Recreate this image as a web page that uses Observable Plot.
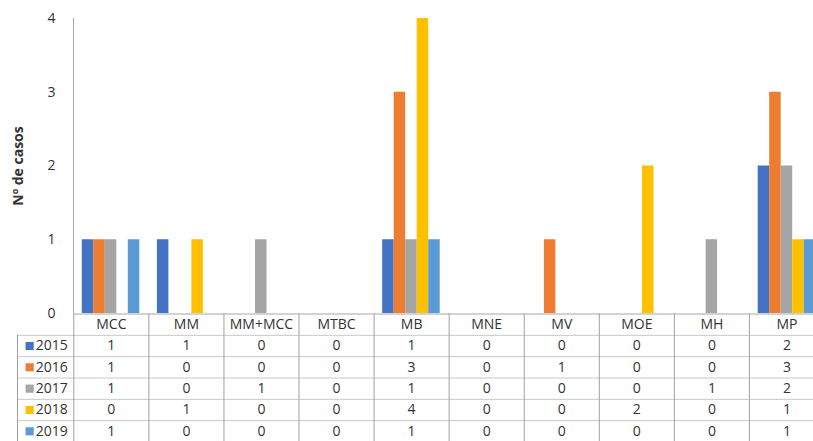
<!DOCTYPE html>
<html>
<head>
<meta charset="utf-8">
<script src="https://cdn.jsdelivr.net/npm/d3@7"></script>
<script src="https://cdn.jsdelivr.net/npm/@observablehq/plot@0.6"></script>
<style>
  html, body { margin: 0; padding: 0; background: #fff; overflow: hidden; }
  #wrap { width: 813px; }
  #wrap svg { display: block; }
  #wrap svg.chart { overflow: visible; }
  .chart [aria-label="y-axis label"] text { font-weight: bold; }
</style>
</head>
<body>
<div id="wrap"></div>
<script>
// ---- data ----
const categories = ["MCC", "MM", "MM+MCC", "MTBC", "MB", "MNE", "MV", "MOE", "MH", "MP"];
const years = ["2015", "2016", "2017", "2018", "2019"];
const v2015 = [1, 1, 0, 0, 1, 0, 0, 0, 0, 2];
const v2016 = [1, 0, 0, 0, 3, 0, 1, 0, 0, 3];
const v2017 = [1, 0, 1, 0, 1, 0, 0, 0, 1, 2];
const v2018 = [0, 1, 0, 0, 4, 0, 0, 2, 0, 1];
const v2019 = [1, 0, 0, 0, 1, 0, 0, 0, 0, 1];
const yTicks = [0, 1, 2, 3, 4];
const yLabel = "Nº de casos";
const colors = ["#4472C4", "#ED7D31", "#A5A5A5", "#FFC000", "#5B9BD5"];

const series = [v2015, v2016, v2017, v2018, v2019];
const rows = [];
years.forEach((yr, j) => categories.forEach((c, i) => rows.push({cat: c, ci: i, year: yr, yi: j, value: series[j][i]})));

// layout of a category slot (in category units)
const groupPad = 0.117;
const barW = (1 - 2 * groupPad) / years.length;

const font = "'Open Sans', sans-serif";

// ---- bar chart ----
const chart = Plot.plot({
  className: "chart",
  width: 813,
  height: 313,
  marginTop: 18,
  marginBottom: 0,
  marginLeft: 73,
  marginRight: -11,
  style: {fontFamily: font, fontSize: "14px", color: "#333", background: "#fff"},
  x: {domain: [0, categories.length], axis: null},
  y: {domain: [0, 4]},
  color: {domain: years, range: colors},
  marks: [
    Plot.rectY(rows.filter(d => d.value > 0), {
      x1: d => d.ci + groupPad + d.yi * barW,
      x2: d => d.ci + groupPad + (d.yi + 1) * barW,
      y: "value", fill: "year"
    }),
    Plot.ruleX([0], {stroke: "#a6a6a6"}),
    Plot.axisY({ticks: yTicks, tickFormat: "d", tickSize: 0, tickPadding: 18, fontSize: 14,
      label: yLabel, labelAnchor: "center", labelArrow: false, labelOffset: 60})
  ]
});

// ---- data table ----
const hLines = d3.range(0, years.length + 1);
const vLines = d3.range(0, categories.length);
const table = Plot.plot({
  width: 813,
  height: 129,
  marginTop: 0.5,
  marginBottom: 0.5,
  marginLeft: 17,
  marginRight: -11,
  style: {fontFamily: font, fontSize: "14px", color: "#333", background: "transparent"},
  x: {domain: [-0.75, categories.length], axis: null},
  y: {domain: [0, years.length + 1], range: [0.5, 128.5], axis: null},
  marks: [
    Plot.ruleY(hLines, {y: d => d, x1: d => d === 0 ? 0 : -0.75, x2: categories.length, stroke: d => d === 0 ? "#a6a6a6" : "#c8c8c8"}),
    Plot.ruleX(vLines, {x: d => d, y1: 0, y2: years.length + 1, stroke: "#a0a0a0"}),
    Plot.ruleX([-0.75], {x: d => d, y1: 1, y2: years.length + 1, stroke: "#a0a0a0"}),
    Plot.text(categories, {x: (d, i) => i + 0.5, y: 0.5, text: d => d, fill: "#333"}),
    Plot.text(rows, {x: d => d.ci + 0.5, y: d => d.yi + 1.5, text: d => String(d.value), fill: "#333"}),
    Plot.dot(years, {x: -0.375, y: (d, i) => i + 1.5, symbol: "square", r: 4.6, fill: (d, i) => colors[i], stroke: null, dx: -16}),
    Plot.text(years, {x: -0.375, y: (d, i) => i + 1.5, text: d => d, fill: "#333", dx: 6, fontSize: 14})
  ]
});

document.getElementById("wrap").append(chart, table);
</script>
</body>
</html>
